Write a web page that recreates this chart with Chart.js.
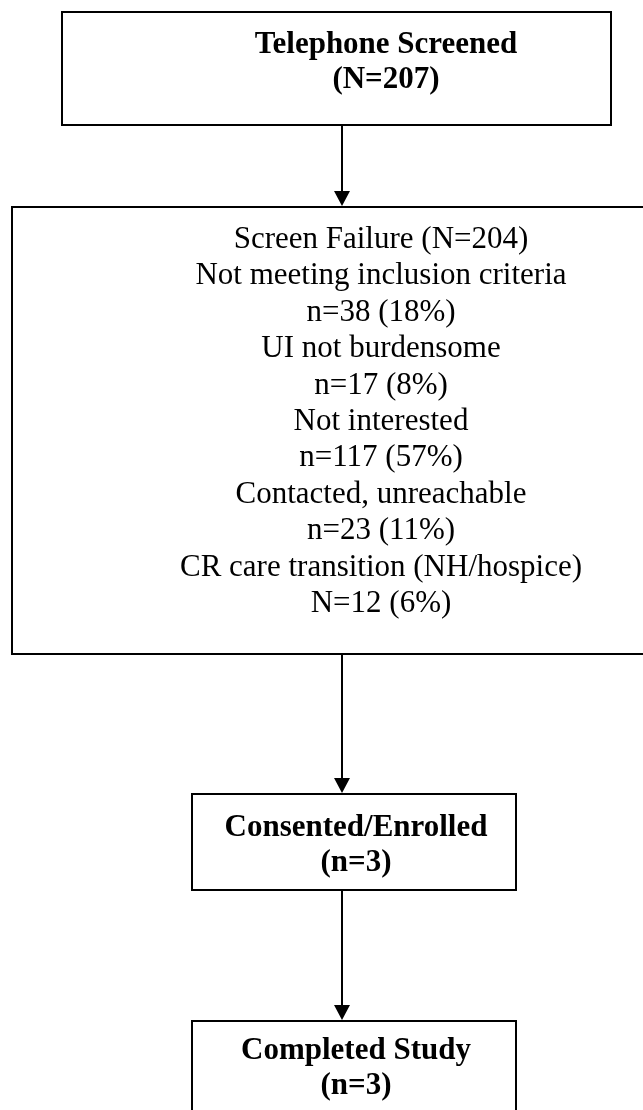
<!DOCTYPE html>
<html>
<head>
<meta charset="utf-8">
<style>
  html, body { margin: 0; padding: 0; background: #fff; }
  #flow { display: block; }
</style>
<script src="https://cdn.jsdelivr.net/npm/chart.js@4.4.0/dist/chart.umd.min.js"></script>
</head>
<body>
<canvas id="flow" width="643" height="1110"></canvas>
<script>
// Flow data
const stageTitles = ['Telephone Screened', 'Consented/Enrolled', 'Completed Study'];
const stageCountLabels = ['N', 'n', 'n'];
const stageCounts = [207, 3, 3];

const failureTitle = 'Screen Failure';
const failureCount = 204;
const reasons = [
    'Not meeting inclusion criteria',
    'UI not burdensome',
    'Not interested',
    'Contacted, unreachable',
    'CR care transition (NH/hospice)'
];
const reasonCountLabels = ['n', 'n', 'n', 'n', 'N'];
const reasonCounts = [38, 17, 117, 23, 12];
const reasonPercents = [18, 8, 57, 11, 6];

// Layout in axis units (axes span the whole canvas)
const layout = {
    boxes: [
        { x0: 62, x1: 611, y0: 12, y1: 125, tx: 386, ty: 53 },    // screened
        { x0: 12, x1: 750, y0: 207, y1: 654, tx: 381, ty: 248 },  // failure
        { x0: 192, x1: 516, y0: 794, y1: 890, tx: 356, ty: 836 }, // enrolled
        { x0: 192, x1: 516, y0: 1021, y1: 1140, tx: 356, ty: 1059 } // completed
    ],
    arrowX: 342,
    lineGap: 35,
    listGap: 36.4
};

const serif = '"Liberation Serif", "DejaVu Serif", serif';

function boxLines(i) {
    if (i === 1) {
        const lines = [failureTitle + ' (N=' + failureCount + ')'];
        reasons.forEach((r, k) => {
            lines.push(r);
            lines.push(reasonCountLabels[k] + '=' + reasonCounts[k] + ' (' + reasonPercents[k] + '%)');
        });
        return { lines, bold: false, gap: layout.listGap };
    }
    const s = i === 0 ? 0 : i - 1;
    return {
        lines: [stageTitles[s], '(' + stageCountLabels[s] + '=' + stageCounts[s] + ')'],
        bold: true,
        gap: layout.lineGap
    };
}

const flowPlugin = {
    id: 'flow',
    afterDraw(chart) {
        const ctx = chart.ctx;
        const sx = chart.scales.x, sy = chart.scales.y;
        const px = v => sx.getPixelForValue(v);
        const py = v => sy.getPixelForValue(v);
        ctx.save();
        ctx.strokeStyle = '#000';
        ctx.fillStyle = '#000';
        ctx.lineWidth = 2;

        layout.boxes.forEach((b, i) => {
            ctx.strokeRect(px(b.x0), py(b.y0), px(b.x1) - px(b.x0), py(b.y1) - py(b.y0));
            const t = boxLines(i);
            ctx.font = (t.bold ? 'bold ' : '') + '31px ' + serif;
            ctx.textAlign = 'center';
            ctx.textBaseline = 'alphabetic';
            t.lines.forEach((ln, k) => ctx.fillText(ln, px(b.tx), py(b.ty + k * t.gap)));
        });

        // arrows between consecutive boxes
        for (let i = 0; i < layout.boxes.length - 1; i++) {
            const from = layout.boxes[i].y1, to = layout.boxes[i + 1].y0;
            const x = px(layout.arrowX);
            const head = 16;
            ctx.beginPath();
            ctx.moveTo(x, py(from));
            ctx.lineTo(x, py(to) - head);
            ctx.stroke();
            ctx.beginPath();
            ctx.moveTo(x - 8, py(to) - head);
            ctx.lineTo(x + 8, py(to) - head);
            ctx.lineTo(x, py(to) - 1);
            ctx.closePath();
            ctx.fill();
        }
        ctx.restore();
    }
};

new Chart(document.getElementById('flow'), {
    type: 'scatter',
    data: { datasets: [{ data: [], pointRadius: 0 }] },
    options: {
        responsive: false,
        animation: false,
        devicePixelRatio: 1,
        layout: { padding: 0 },
        plugins: { legend: { display: false }, tooltip: { enabled: false } },
        scales: {
            x: { type: 'linear', min: 0, max: 643, display: false },
            y: { type: 'linear', min: 0, max: 1110, reverse: true, display: false }
        }
    },
    plugins: [flowPlugin]
});
</script>
</body>
</html>
